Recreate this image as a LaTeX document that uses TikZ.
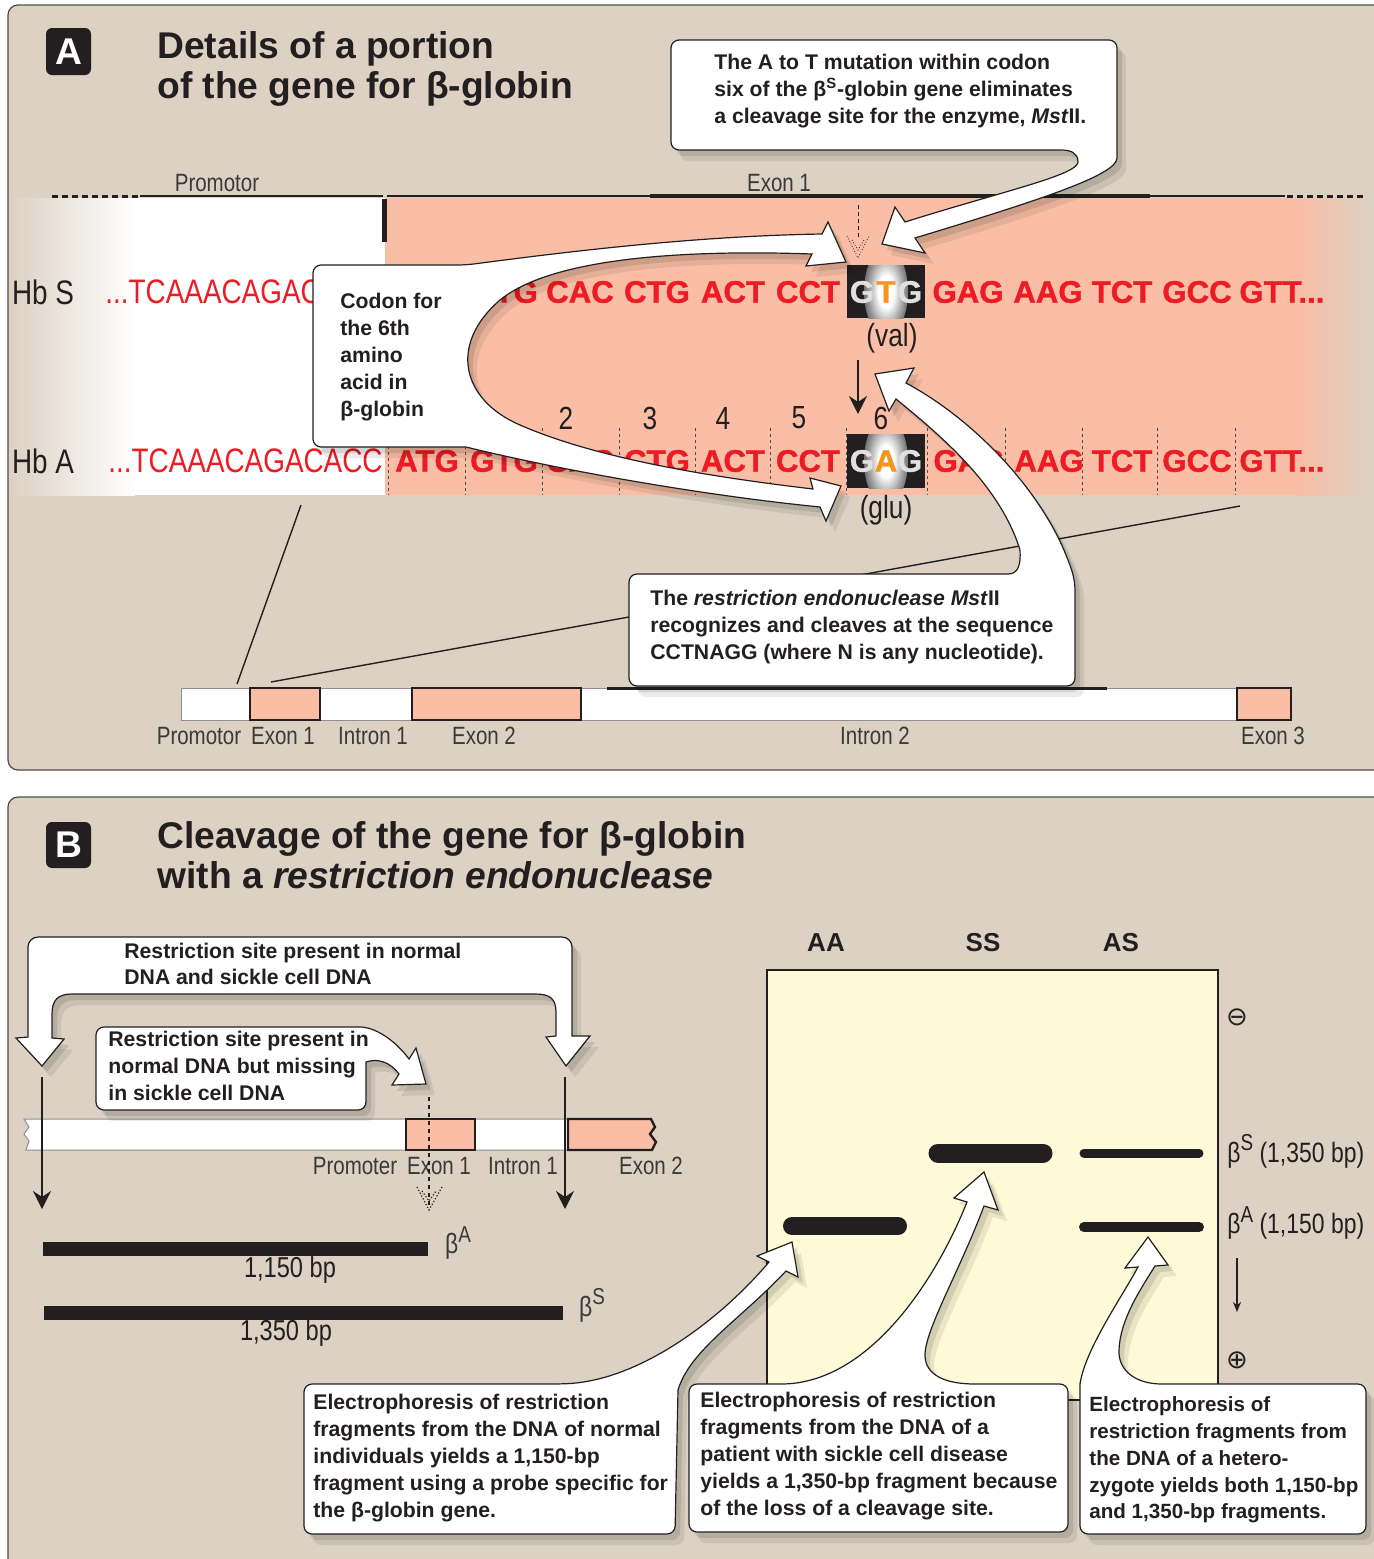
\documentclass[tikz,border=0pt]{standalone}
\usepackage{fontspec}
\setmainfont{Liberation Sans}
\newfontfamily\cond{Liberation Sans}[FakeStretch=0.82]
\newfontfamily\heavy{Liberation Sans}[BoldFeatures={FakeBold=1.3}]
\newfontfamily\djv{DejaVu Sans}
\usetikzlibrary{arrows.meta}
\definecolor{beige}{HTML}{DCD1C3}
\definecolor{salmon}{HTML}{F9BEA5}
\definecolor{seqred}{HTML}{ED1C24}
\definecolor{orng}{HTML}{F7941D}
\definecolor{gelc}{HTML}{FEF9D6}
\definecolor{ink}{HTML}{231F20}
\definecolor{lab}{HTML}{3A3A3A}
\pgfdeclareradialshading{glow}{\pgfpoint{0bp}{0bp}}{color(0bp)=(white); color(9bp)=(white); color(22bp)=(black!45); color(36bp)=(ink); color(50bp)=(ink)}
\newcommand\mycallout[1]{%
  \begin{scope}[shift={(9,11)}]\fill[black,opacity=0.08] #1;\end{scope}%
  \begin{scope}[shift={(5,6)}]\fill[black,opacity=0.10] #1;\end{scope}%
  \filldraw[callout] #1;}
\newcommand\sups[1]{\raisebox{0.42em}{\fontsize{11.5}{12}\selectfont #1}}
\begin{document}
\begin{tikzpicture}[x=0.5pt,y=-0.5pt,
  seqreg/.style={font=\cond\fontsize{17}{20}\selectfont, text=seqred, inner sep=0},
  codon/.style={font=\heavy\fontsize{15.6}{18}\selectfont\bfseries, text=seqred, inner sep=0},
  boxlet/.style={font=\heavy\fontsize{15.6}{18}\selectfont\bfseries, inner sep=0},
  lbl/.style={font=\cond\fontsize{12.5}{14}\selectfont, text=lab, inner sep=0},
  num/.style={font=\cond\fontsize{16}{18}\selectfont, text=ink, inner sep=0},
  ctext/.style={font=\fontsize{10.6}{13.4}\selectfont\bfseries, text=ink, align=left, inner sep=0, anchor=west},
  ttl/.style={font=\fontsize{18.6}{20}\selectfont\bfseries, text=ink, inner sep=0, anchor=base west},
  callout/.style={fill=white, draw=ink, line width=0.6pt},
  sepline/.style={draw=ink!80, line width=0.4pt, dash pattern=on 1.5pt off 1.5pt},
  blk/.style={draw=ink, line width=1.2pt, -{Stealth[length=9pt,width=9pt,inset=3pt]}},
  letterbox/.style={fill=ink, rounded corners=3pt},
  band/.style={draw=ink, line cap=round}
]
\useasboundingbox (0,0) rectangle (1373,1559);
\fill[white] (0,0) rectangle (1373,1559);
% panels
\filldraw[fill=beige, draw=ink!80, line width=0.6pt, rounded corners=5pt] (8,5) rectangle (1420,770);
\filldraw[fill=beige, draw=ink!80, line width=0.6pt, rounded corners=5pt] (8,797) rectangle (1420,1620);

% ===== Panel A =====
\fill[letterbox] (46,28) rectangle (91,75);
\node[font=\fontsize{18.6}{20}\selectfont\bfseries, text=white] (la) at (68.5,51.5) {A};
\node[ttl] (ta1) at (157,58) {Details of a portion};
\node[ttl] (ta2) at (157,98) {of the gene for β-globin};

% sequence band
\shade[left color=beige, right color=white] (10,198) rectangle (135,495);
\fill[white] (134,198) rectangle (386,495);
\fill[salmon] (385,198) rectangle (1300,495);
\shade[left color=salmon, right color=beige] (1299,198) rectangle (1373,495);

% top gene line
\draw[ink, line width=1.5pt, dash pattern=on 3pt off 2pt] (52,196) -- (138,196);
\draw[ink, line width=1pt] (140,196) -- (383,196);
\draw[ink, line width=1pt] (387,196) -- (1285,196);
\draw[ink, line width=2pt] (650,196) -- (1150,196);
\draw[ink, line width=1.5pt, dash pattern=on 3pt off 2pt] (1287,196) -- (1365,196);
\draw[ink, line width=2.5pt] (384,199) -- (384,242);
\node[lbl] (lprom) at (217,183) {Promotor};
\node[lbl] (lex1) at (779,183) {Exon 1};

% row labels
\node[font=\cond\fontsize{17}{20}\selectfont, text=ink, inner sep=0] (hbs) at (43,292) {Hb S};
\node[font=\cond\fontsize{17}{20}\selectfont, text=ink, inner sep=0] (hba) at (43,461) {Hb A};

% Hb S row
\node[seqreg, anchor=west] (s0) at (105,292) {...TCAAACAGAC};
\node[codon] (s2) at (504,292) {GTG};
\node[codon] (s3) at (580,292) {CAC};
\node[codon] (s4) at (657,292) {CTG};
\node[codon] (s5) at (733,292) {ACT};
\node[codon] (s6) at (808,292) {CCT};
\node[codon] (s8) at (968,292) {GAG};
\node[codon] (s9) at (1048,292) {AAG};
\node[codon] (s10) at (1122,292) {TCT};
\node[codon] (s11) at (1197,292) {GCC};
\node[codon, anchor=west] (s12) at (1239,292) {GTT...};
\begin{scope}
  \clip (847,265) rectangle (925,318);
  \fill[ink] (847,265) rectangle (925,318);
  \shade[shading=glow] (886,291.5) ellipse [x radius=22, y radius=44];
\end{scope}
\node[boxlet, text=black!12] (sg1) at (862,292) {G};
\node[boxlet, text=orng] (sg2) at (886,292) {T};
\node[boxlet, text=black!12] (sg3) at (910,292) {G};
\node[num] (val) at (892,338) {(val)};

% Hb A row
\foreach \x in {388,465,542,619,695,770,846,927,1005,1082,1157,1235}
  \draw[sepline] (\x,428) -- (\x,495);
\node[seqreg, anchor=east] (a0) at (383,461) {...TCAAACAGACACC};
\node[codon] (a1) at (427,461) {ATG};
\node[codon] (a2) at (504,461) {GTG};
\node[codon] (a3) at (580,461) {CAC};
\node[codon] (a4) at (657,461) {CTG};
\node[codon] (a5) at (733,461) {ACT};
\node[codon] (a6) at (808,461) {CCT};
\node[codon] (a8) at (969,461) {GAG};
\node[codon] (a9) at (1049,461) {AAG};
\node[codon] (a10) at (1122,461) {TCT};
\node[codon] (a11) at (1197,461) {GCC};
\node[codon, anchor=west] (a12) at (1239,461) {GTT...};
\begin{scope}
  \clip (847,434) rectangle (925,488);
  \fill[ink] (847,434) rectangle (925,488);
  \shade[shading=glow] (886,461) ellipse [x radius=22, y radius=44];
\end{scope}
\node[boxlet, text=black!12] (ag1) at (862,461) {G};
\node[boxlet, text=orng] (ag2) at (886,461) {A};
\node[boxlet, text=black!12] (ag3) at (910,461) {G};
\node[num] (glu) at (886,510) {(glu)};
\node[num] (n1) at (490,418) {1};
\node[num] (n2) at (566,418) {2};
\node[num] (n3) at (650,418) {3};
\node[num] (n4) at (723,418) {4};
\node[num] (n5) at (799,418) {5};
\node[num] (n6) at (881,418) {6};

% arrows near codon 6
\coordinate (mA) at (858,360); \coordinate (mB) at (858,414);
\draw[blk] (mA) -- (mB);
\coordinate (dA) at (858,205); \coordinate (dB) at (858,240);
\draw[ink, line width=0.5pt, dash pattern=on 2pt off 1.5pt] (dA) -- (dB);
\draw[ink, line width=0.4pt, densely dotted] (847,236) -- (858,258) -- (869,236) (852,240) -- (858,250) -- (864,240);

% lower gene diagram
\coordinate (z1) at (237,684); \coordinate (z2) at (301,505);
\coordinate (z3) at (271,682); \coordinate (z4) at (1240,506);
\draw[ink, line width=0.7pt] (z1) -- (z2);
\draw[ink, line width=0.7pt] (z3) -- (z4);
\filldraw[fill=white, draw=ink!50, line width=0.5pt] (181,688) rectangle (1291,720);
\filldraw[fill=salmon, draw=ink, line width=1.2pt] (250,688) rectangle (320,720);
\filldraw[fill=salmon, draw=ink, line width=1.2pt] (412,688) rectangle (581,720);
\filldraw[fill=salmon, draw=ink, line width=1.2pt] (1237,688) rectangle (1291,720);
\draw[ink, line width=1.5pt] (607,688) -- (1107,688);
\node[lbl] (b1) at (199,736) {Promotor};
\node[lbl] (b2) at (283,736) {Exon 1};
\node[lbl] (b3) at (373,736) {Intron 1};
\node[lbl] (b4) at (484,736) {Exon 2};
\node[lbl] (b5) at (875,736) {Intron 2};
\node[lbl] (b6) at (1273,736) {Exon 3};

% callouts panel A
\mycallout{(313,356) [rounded corners=4pt] -- (313,265) -- (466,265) [sharp corners]
  .. controls (580,250) and (700,236) .. (822,234)
  -- (828,222) -- (846,262) -- (806,266) -- (812,254)
  .. controls (700,250) and (555,255) .. (500,300)
  .. controls (448,345) and (462,400) .. (520,425)
  .. controls (600,460) and (720,478) .. (813,489)
  -- (810,478) -- (841,486) -- (826,521) -- (820,507)
  .. controls (700,495) and (560,470) .. (466,447)
  [rounded corners=4pt] -- (313,447) -- cycle}
\node[ctext] (c2t) at (340,357) {Codon for\\the 6th\\amino\\acid in\\β-globin};

\mycallout{(671,95) [rounded corners=4pt] -- (671,40) -- (1117,40) -- (1117,150) [sharp corners]
  .. controls (1117,175) and (1040,200) .. (915,238)
  -- (925,253) -- (882,244) -- (895,207) -- (905,222)
  .. controls (1000,192) and (1078,175) .. (1078,162)
  .. controls (1078,153) and (1071,150) .. (1061,150)
  [rounded corners=4pt] -- (671,150) -- cycle}
\node[ctext] (c1t) at (714,91) {The A to T mutation within codon\\six of the β\textsuperscript{S}-globin gene eliminates\\a cleavage site for the enzyme, \textit{Mst}II.};

\mycallout{(629,630) [rounded corners=4pt] -- (629,574) -- (1000,574) [sharp corners]
  .. controls (1018,574) and (1021,565) .. (1020,550)
  .. controls (1000,485) and (940,435) .. (896,399)
  -- (889,411) -- (875,374) -- (914,368) -- (906,383)
  .. controls (975,420) and (1040,490) .. (1066,555)
  .. controls (1073,572) and (1075,580) .. (1075,592)
  [rounded corners=4pt] -- (1075,686) -- (629,686) -- cycle}
\node[ctext] (c3t) at (650,627) {The \textit{restriction endonuclease Mst}II\\recognizes and cleaves at the sequence\\CCTNAGG (where N is any nucleotide).};

% ===== Panel B =====
\fill[letterbox] (46,822) rectangle (91,868);
\node[font=\fontsize{18.6}{20}\selectfont\bfseries, text=white] (lb) at (68.5,845) {B};
\node[ttl] (tb1) at (157,848) {Cleavage of the gene for β-globin};
\node[ttl] (tb2) at (157,888) {with a \textit{restriction endonuclease}};

% gene bar
\filldraw[fill=white, draw=ink!50, line width=0.5pt] (24,1119) -- (568,1119) -- (568,1150) -- (26,1150) -- (29,1141) -- (24,1134) -- (29,1127) -- cycle;
\filldraw[fill=salmon, draw=ink, line width=1.2pt] (406,1119) rectangle (475,1150);
\filldraw[fill=salmon, draw=ink, line width=1.2pt] (568,1119) -- (651,1119) -- (655,1127) -- (650,1134) -- (656,1142) -- (652,1150) -- (568,1150) -- cycle;
\node[lbl] (g1) at (355,1166) {Promoter};
\node[lbl] (g2) at (439,1166) {Exon 1};
\node[lbl] (g3) at (523,1166) {Intron 1};
\node[lbl] (g4) at (651,1166) {Exon 2};

% cut arrows
\coordinate (lc1) at (42,1077); \coordinate (lc2) at (42,1209);
\coordinate (rc1) at (565,1077); \coordinate (rc2) at (565,1209);
\draw[blk] (lc1) -- (lc2);
\draw[blk] (rc1) -- (rc2);
\coordinate (dc1) at (429,1097); \coordinate (dc2) at (429,1208);
\draw[ink, line width=1pt, dash pattern=on 2pt off 2pt] (dc1) -- (dc2);
\draw[ink, line width=0.6pt, densely dotted] (417,1187) -- (429,1210) -- (442,1187) (422,1191) -- (429,1201) -- (436,1191);

% fragments
\fill[ink] (43,1242) rectangle (428,1256);
\fill[ink] (44,1306) rectangle (563,1320);
\node[font=\cond\fontsize{14}{16}\selectfont, text=lab, inner sep=0] (fa) at (458,1243) {β\sups{A}};
\node[font=\cond\fontsize{14}{16}\selectfont, text=lab, inner sep=0] (fs) at (592,1305) {β\sups{S}};
\node[font=\cond\fontsize{14.4}{16}\selectfont, text=ink, inner sep=0] (fa2) at (290,1270) {1,150 bp};
\node[font=\cond\fontsize{14.4}{16}\selectfont, text=ink, inner sep=0] (fs2) at (286,1333) {1,350 bp};

% callouts B left
\mycallout{(28,1000) [rounded corners=5pt] -- (28,937) -- (572,937) [sharp corners] -- (572,1036)
  -- (590,1036) -- (566,1066) -- (546,1037) -- (556,1036) -- (556,1012)
  .. controls (556,998) and (549,994) .. (535,994) -- (72,994)
  .. controls (58,994) and (52,1000) .. (52,1014) -- (52,1038) -- (64,1039)
  -- (42,1066) -- (16,1038) -- (28,1037) -- cycle}
\node[ctext] (c4t) at (124,964) {Restriction site present in normal\\DNA and sickle cell DNA};

\mycallout{(96,1068) [rounded corners=4pt] -- (96,1027) -- (352,1027) [sharp corners]
  .. controls (375,1027) and (395,1040) .. (409,1059)
  -- (416,1048) -- (426,1084) -- (392,1085) -- (399,1074)
  .. controls (390,1062) and (378,1058) .. (366,1062)
  [rounded corners=4pt] -- (366,1110) -- (96,1110) -- cycle}
\node[ctext] (c5t) at (108,1066) {Restriction site present in\\normal DNA but missing\\in sickle cell DNA};

% gel
\filldraw[fill=gelc, draw=ink, line width=1.2pt] (767,970) rectangle (1218,1400);
\node[font=\fontsize{13}{15}\selectfont\bfseries, text=ink, inner sep=0] (gaa) at (826,943) {AA};
\node[font=\fontsize{13}{15}\selectfont\bfseries, text=ink, inner sep=0] (gss) at (983,943) {SS};
\node[font=\fontsize{13}{15}\selectfont\bfseries, text=ink, inner sep=0] (gas) at (1121,943) {AS};
\draw[band, line width=9pt] (792,1226) -- (898,1226);
\draw[band, line width=9.5pt] (938,1153) -- (1043,1153);
\draw[band, line width=4.5pt] (1084,1153) -- (1199,1153);
\draw[band, line width=5pt] (1084,1227) -- (1199,1227);
\node[font=\djv\fontsize{13}{14}\selectfont, text=ink, inner sep=0] (gm) at (1237,1017) {⊖};
\node[font=\djv\fontsize{13}{14}\selectfont, text=ink, inner sep=0] (gp) at (1237,1360) {⊕};
\coordinate (ga1) at (1237,1258); \coordinate (ga2) at (1237,1312);
\draw[draw=ink, line width=0.8pt, -{Stealth[length=5pt,width=4pt]}] (ga1) -- (ga2);
\node[font=\cond\fontsize{14}{16}\selectfont, text=ink, inner sep=0, anchor=west] (gls) at (1227,1151) {β\sups{S} (1,350 bp)};
\node[font=\cond\fontsize{14}{16}\selectfont, text=ink, inner sep=0, anchor=west] (gla) at (1227,1223) {β\sups{A} (1,150 bp)};

% bottom callouts
\mycallout{(304,1460) [rounded corners=4pt] -- (304,1384) -- (560,1384) [sharp corners]
  .. controls (640,1380) and (720,1320) .. (769,1262)
  -- (757,1256) -- (792,1242) -- (798,1277) -- (786,1271)
  .. controls (740,1320) and (690,1350) .. (678,1390)
  [rounded corners=4pt] -- (675,1534) -- (304,1534) -- cycle}
\node[ctext] (c6t) at (313,1458) {Electrophoresis of restriction\\fragments from the DNA of normal\\individuals yields a 1,150-bp\\fragment using a probe specific for\\the β-globin gene.};

\mycallout{(689,1460) [rounded corners=4pt] -- (689,1384) -- (790,1384) [sharp corners]
  .. controls (880,1370) and (940,1270) .. (967,1202)
  -- (954,1198) -- (984,1172) -- (998,1210) -- (984,1206)
  .. controls (960,1270) and (925,1330) .. (925,1355)
  .. controls (925,1375) and (945,1384) .. (975,1384)
  [rounded corners=4pt] -- (1068,1384) -- (1068,1532) -- (689,1532) -- cycle}
\node[ctext] (c7t) at (700,1456) {Electrophoresis of restriction\\fragments from the DNA of a\\patient with sickle cell disease\\yields a 1,350-bp fragment because\\of the loss of a cleavage site.};

\mycallout{(1080,1460) [rounded corners=4pt] -- (1080,1534) -- (1366,1534) -- (1366,1384) -- (1170,1384) [sharp corners]
  .. controls (1135,1384) and (1118,1370) .. (1119,1350)
  .. controls (1120,1320) and (1140,1290) .. (1155,1266)
  -- (1168,1265) -- (1148,1237) -- (1125,1268) -- (1138,1267)
  .. controls (1120,1300) and (1085,1350) .. (1080,1384) -- cycle}
\node[ctext, font=\fontsize{10.3}{13.4}\selectfont\bfseries] (c8t) at (1089,1460) {Electrophoresis of\\restriction fragments from\\the DNA of a hetero-\\zygote yields both 1,150-bp\\and 1,350-bp fragments.};
\end{tikzpicture}
\end{document}
